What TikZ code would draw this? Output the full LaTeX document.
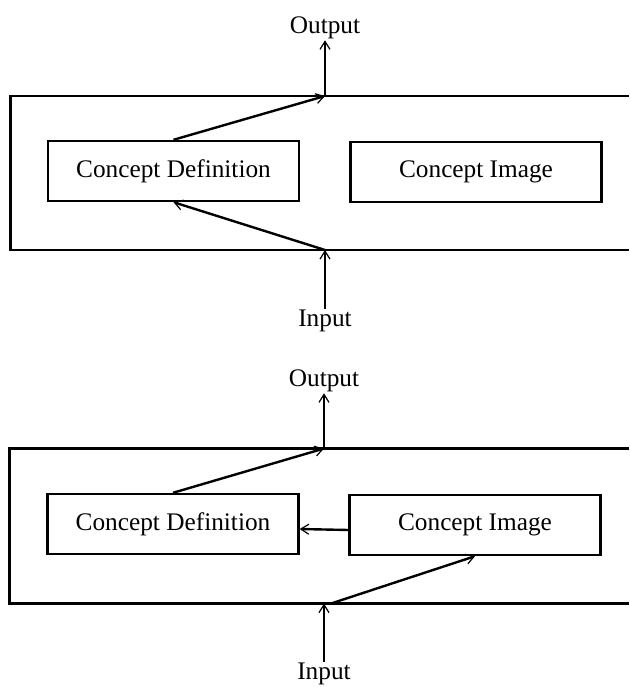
\documentclass[tikz,border=0pt]{standalone}
\usepackage{fontspec}
\setmainfont{Liberation Serif}
\usetikzlibrary{arrows.meta}
\begin{document}
\begin{tikzpicture}[x=1pt,y=-1pt,
  box/.style={draw, line width=2.4pt, minimum width=251pt, minimum height=60pt, inner sep=0pt, font=\fontsize{25.3}{30}\selectfont},
  lbl/.style={font=\fontsize{25.3}{30}\selectfont, inner sep=1pt},
  conn/.style={line width=2.4pt, -{Straight Barb[length=8pt,width=10pt,line width=1.2pt]}},
  frame/.style={line width=2.4pt}]
\useasboundingbox (0,0) rectangle (629,687);
% ---------- top diagram ----------
\node[box] (cd1) at (173.5,171) {Concept Definition};
\node[box] (ci1) at (476,172) {Concept Image};
\node[lbl] (out1) at (325,28) {Output};
\node[lbl] (in1) at (325,321) {Input};
\coordinate (t1) at (325,96);
\coordinate (b1) at (325,250);
\draw[frame] (629,96) -- (10.5,96) -- (10.5,250) -- (629,250);
\draw[conn] (cd1.north) -- (t1);
\draw[conn] (t1) -- (out1.south);
\draw[conn] (in1.north) -- (b1);
\draw[conn] (b1) -- (cd1.south);
% ---------- bottom diagram ----------
\node[box] (cd2) at (173,524) {Concept Definition};
\node[box] (ci2) at (475,525) {Concept Image};
\node[lbl] (out2) at (324,381) {Output};
\node[lbl] (in2) at (324,674) {Input};
\coordinate (t2) at (324,448.5);
\coordinate (b2) at (324,603.5);
\coordinate (b2r) at (331,603.5);
\draw[frame] (629,448.5) -- (9.5,448.5) -- (9.5,603.5) -- (629,603.5);
\draw[conn] (cd2.north) -- (t2);
\draw[conn] (t2) -- (out2.south);
\draw[conn] (in2.north) -- (b2);
\draw[conn] (b2r) -- (ci2.south);
\draw[conn] ([yshift=-5pt]ci2.west) -- ([yshift=-5pt]cd2.east);
\end{tikzpicture}
\end{document}
